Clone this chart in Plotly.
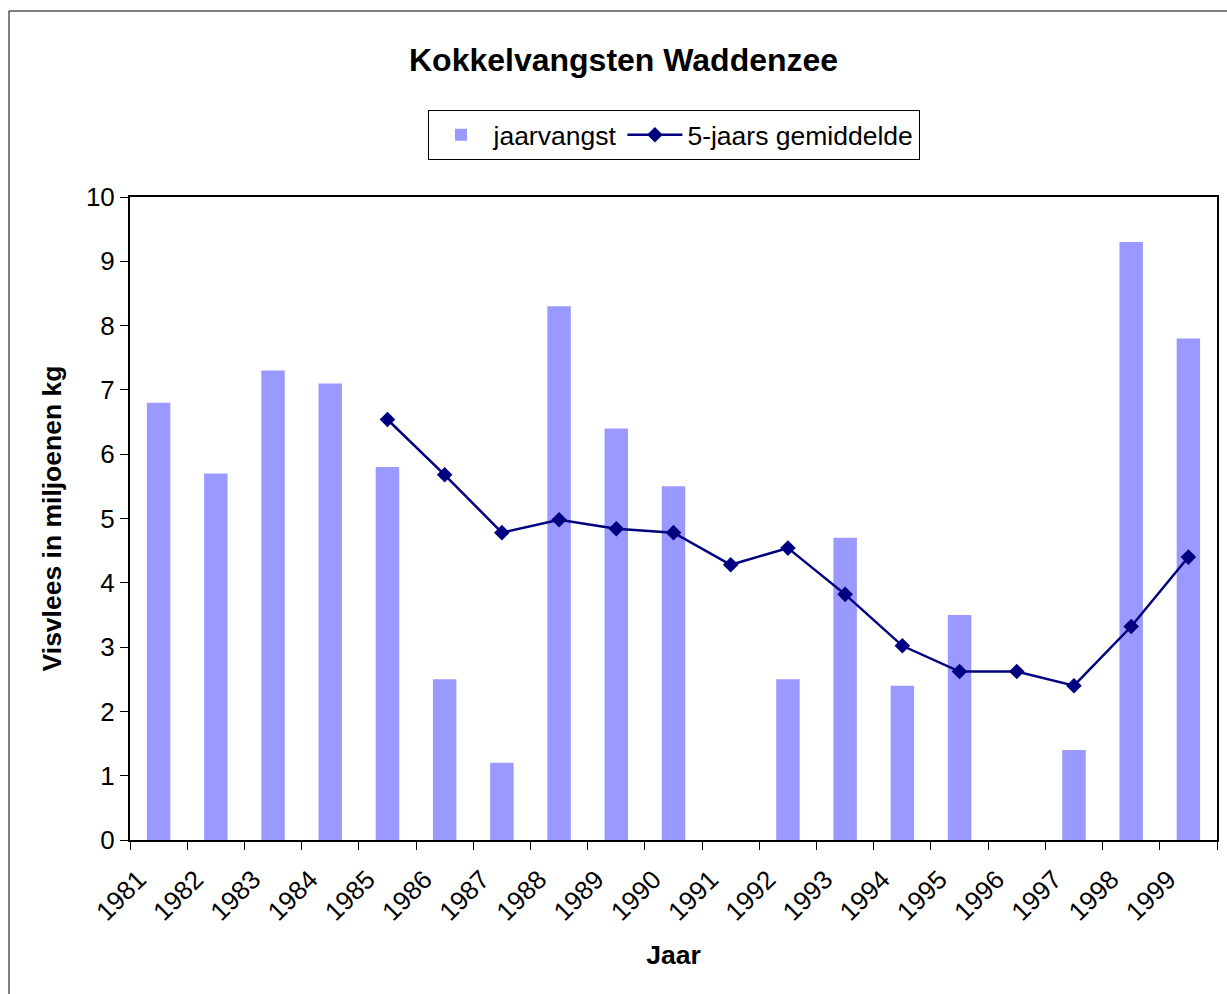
import plotly.graph_objects as go

years = [str(y) for y in range(1981, 2000)]
jaarvangst = [6.8, 5.7, 7.3, 7.1, 5.8, 2.5, 1.2, 8.3, 6.4, 5.5, 0.0, 2.5, 4.7, 2.4, 3.5, 0.0, 1.4, 9.3, 7.8]
avg_years = [str(y) for y in range(1985, 2000)]
gemiddelde = [6.54, 5.68, 4.78, 4.98, 4.84, 4.78, 4.28, 4.54, 3.82, 3.02, 2.62, 2.62, 2.40, 3.32, 4.40]

FONT = "Arial, Liberation Sans, sans-serif"
n = len(years)
bounds = [i - 0.5 for i in range(n + 1)]

fig = go.Figure()
fig.add_trace(go.Bar(x=years, y=jaarvangst, name="jaarvangst",
                     marker=dict(color="#9999FF", line=dict(width=0)), width=0.41))
fig.add_trace(go.Scatter(x=avg_years, y=gemiddelde, name="5-jaars gemiddelde",
                         mode="lines+markers",
                         line=dict(color="#000080", width=2.5),
                         marker=dict(symbol="diamond", size=12, color="#000080")))

fig.update_layout(
    width=1227, height=994,
    template="none",
    paper_bgcolor="white", plot_bgcolor="white",
    margin=dict(l=130, r=10, t=197, b=154, autoexpand=False),
    font=dict(family=FONT, size=26, color="black"),
    title=dict(text="<b>Kokkelvangsten Waddenzee</b>", x=0.5082, xanchor="center",
               y=1 - 60 / 994, yanchor="middle", font=dict(size=32, family=FONT)),
    showlegend=True,
    legend=dict(orientation="h", x=0.5, xanchor="center", y=(840 - 110) / 643, yanchor="top",
                bordercolor="black", borderwidth=1, bgcolor="white", itemwidth=55,
                font=dict(size=26.5, family=FONT), traceorder="normal"),
    xaxis=dict(type="category", range=[-0.5, n - 0.5], tickson="boundaries",
               ticks="outside", ticklen=8, tickwidth=1, tickcolor="black",
               tickangle=-45, ticklabelshift=-20, ticklabelstandoff=12,
               showline=True, linewidth=2, linecolor="black", mirror=True,
               showgrid=False, zeroline=False, automargin=False,
               title=dict(text="<b>Jaar</b>", font=dict(size=26.5), standoff=20)),
    xaxis2=dict(overlaying="x", anchor="y", range=[-0.5, n - 0.5], tickmode="array",
                tickvals=bounds, ticks="inside", ticklen=8, tickwidth=1, tickcolor="black",
                showticklabels=False, showline=False, showgrid=False, zeroline=False),
    yaxis=dict(range=[0, 10], dtick=1, tick0=0, ticks="outside", ticklen=8, tickwidth=1,
               tickcolor="black", showline=True, linewidth=2, linecolor="black", mirror=True,
               showgrid=False, zeroline=False, automargin=False,
               title=dict(text="<b>Visvlees in miljoenen kg</b>", font=dict(size=26.5), standoff=17)),
    yaxis2=dict(overlaying="y", anchor="x", range=[0, 10], dtick=1, tick0=0,
                ticks="inside", ticklen=8, tickwidth=1, tickcolor="black",
                showticklabels=False, showline=False, showgrid=False, zeroline=False),
    shapes=[dict(type="rect", xref="paper", yref="paper",
                 x0=(9 - 130) / 1087, x1=1.2, y0=-0.4, y1=(840 - 11) / 643,
                 line=dict(color="black", width=1), fillcolor="rgba(0,0,0,0)", layer="below")],
)

fig.write_html("out.html", config={"displayModeBar": False},
               post_script="document.body.style.margin='0';document.body.style.overflow='hidden';")
